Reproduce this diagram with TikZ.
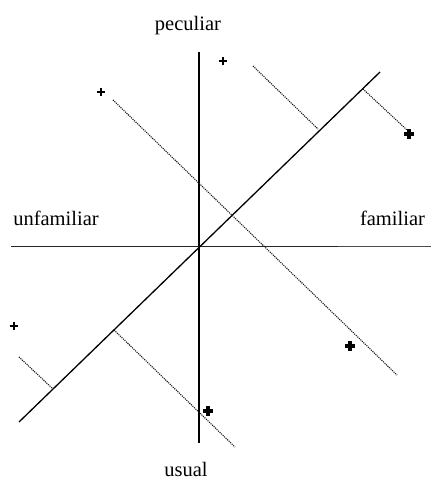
\documentclass[tikz,border=0pt]{standalone}
\usepackage{fontspec}
\setmainfont{Liberation Serif}
\begin{document}
\begin{tikzpicture}[x=1pt,y=-1pt,
  axis/.style={line width=1.1pt,black!85},
  axisthin/.style={line width=0.8pt,black!70},
  diag/.style={line width=1.3pt,black},
  proj/.style={densely dotted,line width=1.1pt,black!90},
  lbl/.style={font=\fontsize{20.5}{24}\selectfont,anchor=base,inner sep=0pt},
  thinplus/.style={line width=2.1pt},
  boldplus/.style={line width=3.2pt}]
\useasboundingbox (0,0) rectangle (431,486);
% coordinates
\coordinate (vt) at (199,52);
\coordinate (vb) at (199,443);
\coordinate (hl) at (11,246.5);
\coordinate (hm) at (338,246.5);
\coordinate (hr) at (431,246.5);
\coordinate (da) at (19,422);
\coordinate (db) at (380,72);
% axes
\draw[line width=1.8pt] (vt) -- (vb);
\draw[axis] (hl) -- (hm);
\draw[axisthin] (hm) -- (hr);
\draw[diag] (da) -- (db);
% projection lines
\coordinate (d1a) at (253,66);  \coordinate (d1b) at (318,129);
\coordinate (d2a) at (363,89);  \coordinate (d2b) at (407,130);
\coordinate (d3a) at (113,100); \coordinate (d3b) at (397,375);
\coordinate (d4a) at (19,357);  \coordinate (d4b) at (52,388);
\coordinate (d5a) at (114,330); \coordinate (d5b) at (235,447);
\foreach \s/\e in {d1a/d1b,d2a/d2b,d3a/d3b,d4a/d4b,d5a/d5b}
  \draw[proj] (\s) -- (\e);
% plus marks
\foreach \n/\x/\y in {p1/223/61,p2/101/92,p3/14/326}{
  \coordinate (\n) at (\x,\y);
  \draw[thinplus] ([xshift=-4.3pt]\n) -- ([xshift=4.3pt]\n);
  \draw[thinplus] ([yshift=-4.3pt]\n) -- ([yshift=4.3pt]\n);
}
\foreach \n/\x/\y in {p4/409/134,p5/208/411,p6/350/346}{
  \coordinate (\n) at (\x,\y);
  \draw[boldplus] ([xshift=-4.8pt]\n) -- ([xshift=4.8pt]\n);
  \draw[boldplus] ([yshift=-4.8pt]\n) -- ([yshift=4.8pt]\n);
}
% labels
\node[lbl] (peculiar) at (188,31) {peculiar};
\node[lbl] (usual) at (186,476) {usual};
\node[lbl] (unfamiliar) at (56,225) {unfamiliar};
\node[lbl] (familiar) at (392.5,225) {familiar};
\end{tikzpicture}
\end{document}
